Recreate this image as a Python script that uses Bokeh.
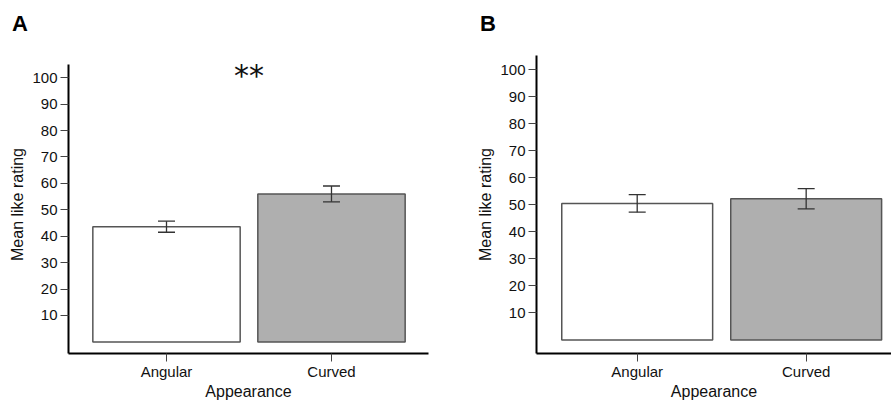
from bokeh.plotting import figure
from bokeh.models import Range1d, FixedTicker, ColumnDataSource, Whisker, TeeHead, Label, Div
from bokeh.layouts import row, column
from bokeh.embed import file_html
from bokeh.resources import INLINE

# ---- data ----
categories = ["Angular", "Curved"]
a_means = [43.6, 56.0]
a_errors = [2.1, 3.0]
b_means = [50.5, 52.2]
b_errors = [3.25, 3.75]
bar_colors = ["#ffffff", "#afafaf"]
y_ticks = [10, 20, 30, 40, 50, 60, 70, 80, 90, 100]
y_title = "Mean like rating"
x_title = "Appearance"
panel_letters = ["A", "B"]
sig_text = "**"

FONT = "Liberation Sans"
HEAD_H = 36


def make_panel(means, errors, width, border_left, border_right,
               x_start, x_end, y_start, y_end, axis_top, sig=None, sig_y=None):
    idx = list(range(len(categories)))
    p = figure(width=width, height=402 - HEAD_H,
               x_range=Range1d(x_start, x_end), y_range=Range1d(y_start, y_end),
               output_backend="svg", toolbar_location=None,
               min_border_left=border_left, min_border_top=55 - HEAD_H,
               min_border_right=border_right, min_border_bottom=47)
    p.outline_line_color = None
    p.xgrid.grid_line_color = None
    p.ygrid.grid_line_color = None
    p.background_fill_color = "white"
    p.border_fill_color = "white"

    src = ColumnDataSource(dict(
        x=idx, top=means, color=bar_colors,
        upper=[m + e for m, e in zip(means, errors)],
        lower=[m - e for m, e in zip(means, errors)],
    ))
    p.vbar(x="x", top="top", bottom=0, width=0.893, source=src,
           fill_color="color", line_color="#555555", line_width=1.5)
    w = Whisker(base="x", upper="upper", lower="lower", source=src,
                line_color="#333333", line_width=1.3, level="overlay",
                upper_head=TeeHead(size=17, line_color="#333333", line_width=1.3),
                lower_head=TeeHead(size=17, line_color="#333333", line_width=1.3))
    p.add_layout(w)

    # axes
    xa = p.xaxis[0]
    xa.ticker = FixedTicker(ticks=idx)
    xa.major_label_overrides = {i: c for i, c in zip(idx, categories)}
    xa.axis_label = x_title
    ya = p.yaxis[0]
    ya.ticker = FixedTicker(ticks=y_ticks)
    ya.axis_label = y_title
    ya.bounds = (y_start, axis_top)
    for ax in (xa, ya):
        ax.axis_line_color = "black"
        ax.axis_line_width = 2
        ax.major_tick_line_color = "#444444"
        ax.major_tick_line_width = 1
        ax.major_tick_in = 0
        ax.major_tick_out = 8
        ax.minor_tick_line_color = None
        ax.major_label_text_font = FONT
        ax.major_label_text_font_size = "15px"
        ax.major_label_text_color = "#111111"
        ax.axis_label_text_font = FONT
        ax.axis_label_text_font_style = "normal"
        ax.axis_label_text_color = "#111111"
        ax.axis_label_text_font_size = "16px"
        ax.axis_label_standoff = 3
        ax.major_label_standoff = 3
    xa.major_label_standoff = 1
    xa.axis_label_standoff = 0

    if sig:
        p.add_layout(Label(x=sum(idx) / len(idx), y=sig_y, text=sig,
                           text_font="DejaVu Sans", text_font_size="30px",
                           text_color="#111111", text_baseline="middle",
                           text_align="center"))
    return p


def letter_div(letter, width, left):
    html = ('<div style="margin:0;padding:13px 0 0 %dpx;font-family:\'%s\';'
            'font-size:22px;font-weight:bold;line-height:22px;color:#000;">%s</div>'
            % (left, FONT, letter))
    return Div(text=html, width=width, height=HEAD_H, margin=0)


pA = make_panel(a_means, a_errors, 450, 68, 22,
                -0.594, 1.588, -4.4, 108.4, 105.0,
                sig=sig_text, sig_y=100.9)
pB = make_panel(b_means, b_errors, 441, 86, 0,
                -0.596, 1.505, -5.03, 105.2, 105.2)

heads = row(letter_div(panel_letters[0], 450, 12),
            letter_div(panel_letters[1], 441, 30), spacing=0)
plots = row(pA, pB, spacing=0)
layout = column(heads, plots, spacing=0)
open("out.html", "w").write(file_html(layout, INLINE))
